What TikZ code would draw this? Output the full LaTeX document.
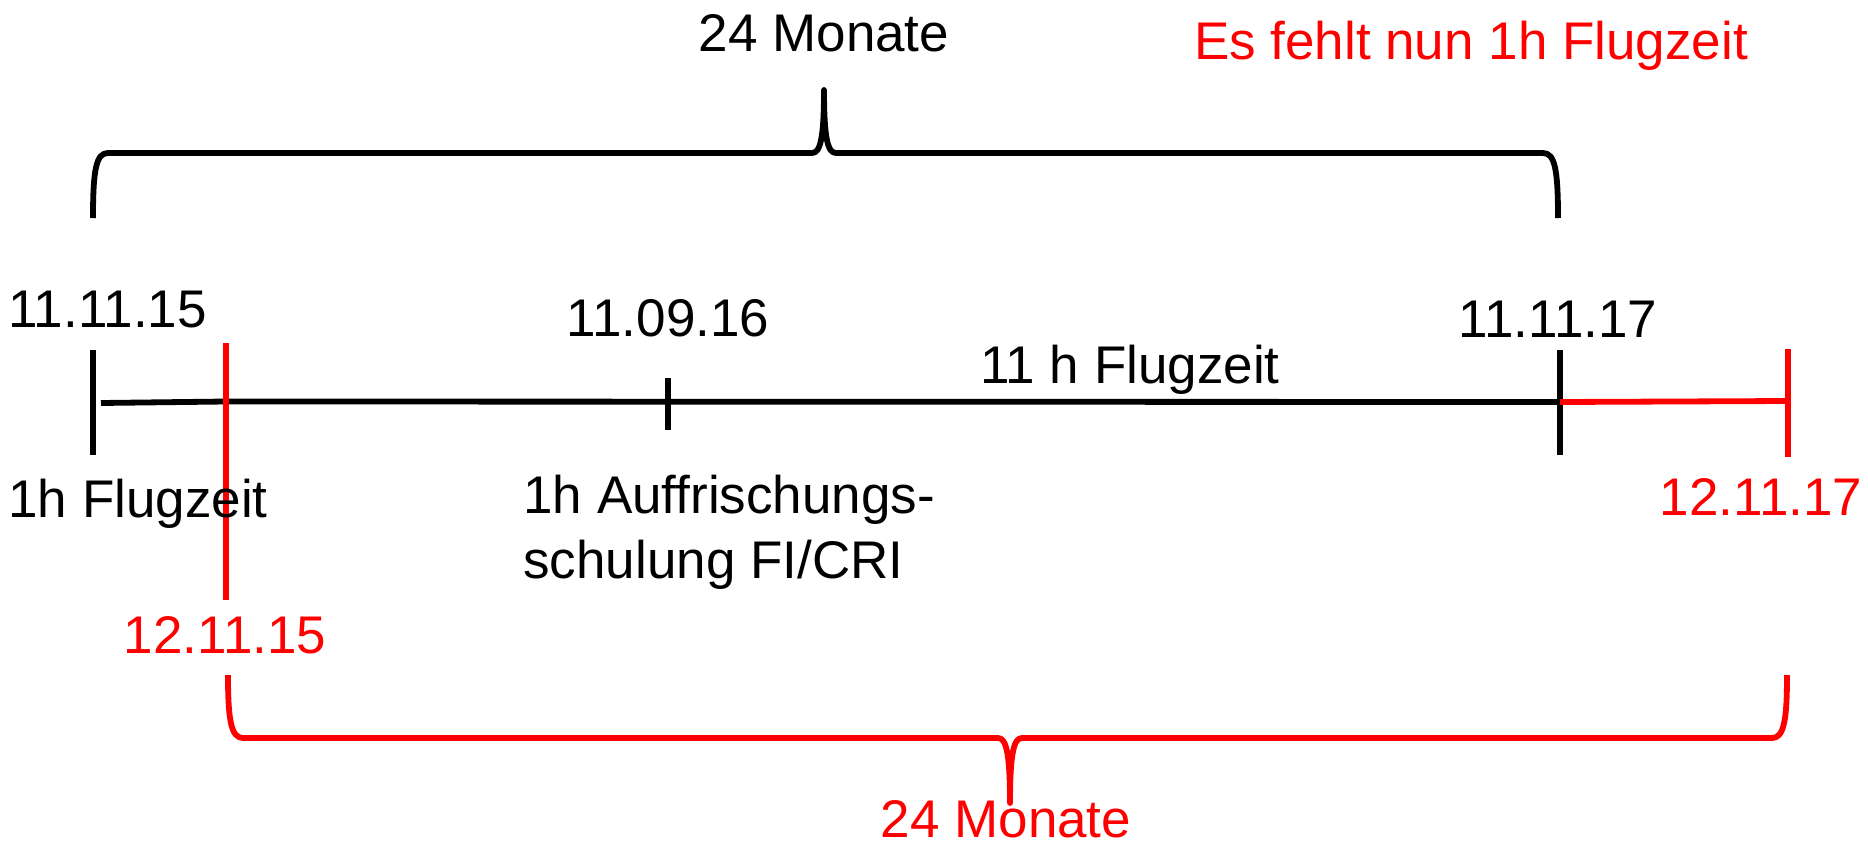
\documentclass[tikz,border=0pt]{standalone}
\usepackage{fontspec}
\setmainfont{Liberation Sans}
\definecolor{pptred}{RGB}{255,0,0}
\begin{document}
\begin{tikzpicture}[x=0.5pt,y=-0.5pt,
  txt/.style={inner sep=0pt,anchor=base,font=\fontsize{26.5pt}{33.5pt}\selectfont},
  ln/.style={line width=2.9pt},
  redln/.style={line width=2.9pt,draw=pptred}]
\useasboundingbox (0,0) rectangle (1868,846);
% coordinates
\coordinate (t1a) at (93,350);  \coordinate (t1b) at (93,455);
\coordinate (r1a) at (226,343); \coordinate (r1b) at (226,600);
\coordinate (t2a) at (668,378); \coordinate (t2b) at (668,430);
\coordinate (t3a) at (1560,350); \coordinate (t3b) at (1560,455);
\coordinate (r3a) at (1788,349); \coordinate (r3b) at (1788,457);
\coordinate (l0) at (101,403);
\coordinate (l3) at (1560,402);
\coordinate (r3) at (1788,401);
% timeline
\draw[ln] (l0) -- (226,401.5) -- (l3);
\draw[ln] (t1a) -- (t1b);
\draw[ln] (t2a) -- (t2b);
\draw[ln] (t3a) -- (t3b);
\draw[redln] (l3) -- (r3);
\draw[redln] (r1a) -- (r1b);
\draw[redln] (r3a) -- (r3b);
% top brace
\coordinate (tbL) at (93,218); \coordinate (tbR) at (1558,218); \coordinate (tbT) at (824,90);
\draw[ln,line join=round] (tbL) .. controls (93,170) and (96,153) .. (108,153) -- (812,153)
  .. controls (820,153) and (824,140) .. (tbT)
  .. controls (824,140) and (828,153) .. (836,153) -- (1543,153)
  .. controls (1555,153) and (1558,170) .. (tbR);
% bottom brace
\coordinate (bbL) at (228,675); \coordinate (bbR) at (1787,675); \coordinate (bbT) at (1010,803);
\draw[redln,line join=round] (bbL) .. controls (228,720) and (231,738) .. (243,738) -- (998,738)
  .. controls (1006,738) and (1010,752) .. (bbT)
  .. controls (1010,752) and (1014,738) .. (1022,738) -- (1772,738)
  .. controls (1784,738) and (1787,720) .. (bbR);
% texts
\node[txt] (m1) at (824,51) {24 Monate};
\node[txt,text=pptred] (fehlt) at (1471,59) {Es fehlt nun 1h Flugzeit};
\node[txt,anchor=base west] (d1) at (8,327) {11.11.15};
\node[txt] (d2) at (668,336) {11.09.16};
\node[txt] (d3) at (1558,337) {11.11.17};
\node[txt] (fz11) at (1130,383) {11 h Flugzeit};
\node[txt,anchor=base west] (fz1) at (8,517) {1h Flugzeit};
\node[txt,anchor=base west] (auf1) at (523,513) {1h Auffrischungs-};
\node[txt,anchor=base west] (auf2) at (523,578) {schulung FI/CRI};
\node[txt,text=pptred] (r1) at (225,653) {12.11.15};
\node[txt,text=pptred] (r3t) at (1761,515) {12.11.17};
\node[txt,text=pptred] (m2) at (1006,837) {24 Monate};
\end{tikzpicture}
\end{document}
